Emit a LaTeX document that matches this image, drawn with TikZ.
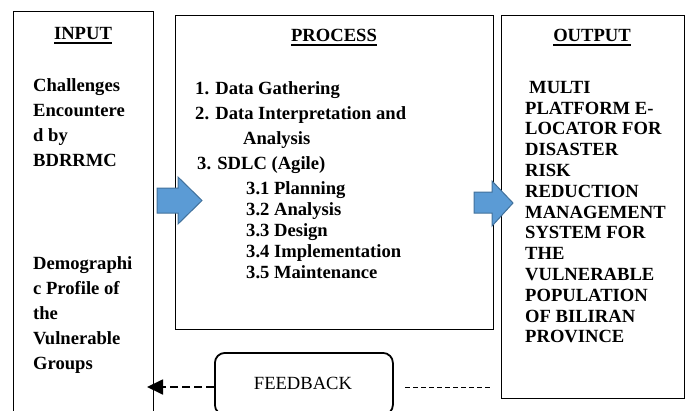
\documentclass[tikz,border=0pt]{standalone}
\usepackage{fontspec}
\setmainfont{Liberation Serif}[BoldFont={Liberation Serif Bold}]
\usetikzlibrary{arrows.meta}
\newcommand{\thickul}[1]{\setbox0=\hbox{#1}\rlap{\raisebox{-4.5pt}{\rule{\wd0}{1.6pt}}}\box0}
\begin{document}
\begin{tikzpicture}[x=1pt,y=-1pt,
  txt/.style={font=\fontsize{18.6}{25}\selectfont\bfseries, inner sep=0pt, align=left},
  subtxt/.style={font=\fontsize{18.6}{21}\selectfont\bfseries, inner sep=0pt, align=left},
  outtxt/.style={font=\fontsize{18.6}{20.8}\selectfont\bfseries, inner sep=0pt, align=left},
  head/.style={font=\fontsize{18.6}{25}\selectfont\bfseries, inner sep=0pt, anchor=base},
  frame/.style={draw, line width=1pt, inner sep=0pt},
  bluearrow/.style={fill={rgb,255:red,91;green,155;blue,213}, draw={rgb,255:red,65;green,113;blue,156}, line width=1pt, line join=miter},
]
\useasboundingbox (0,0) rectangle (688,410);
\clip (0,0) rectangle (688,410);
% boxes
\node[frame, anchor=north west, minimum width=140pt, minimum height=420pt] (inbox) at (13,11) {};
\node[frame, anchor=north west, minimum width=318pt, minimum height=314pt] (procbox) at (175,15) {};
\node[frame, anchor=north west, minimum width=183pt, minimum height=383pt] (outbox) at (501,15) {};
\node[draw, line width=1.8pt, rounded corners=10pt, anchor=north west, minimum width=178pt, minimum height=62pt,
      font=\fontsize{18.6}{25}\selectfont, inner sep=0pt] (fb) at (214,352) {};
\node[font=\fontsize{18.6}{25}\selectfont, inner sep=0pt, anchor=base] (fbtext) at (303,389.5) {FEEDBACK};
% headings
\node[head] (inhead) at (83,39) {\thickul{INPUT}};
\node[head] (prochead) at (334,41) {\thickul{PROCESS}};
\node[head] (outhead) at (592,41) {\thickul{OUTPUT}};
% input texts
\node[txt, anchor=north west] (in1) at (33,78) {Challenges\\Encountere\\d by\\BDRRMC};
\node[txt, anchor=north west] (in2) at (33,256) {Demographi\\c Profile of\\the\\Vulnerable\\Groups};
% process texts
\node[txt, anchor=north west] (p1) at (195,81) {1. Data Gathering\\2. Data Interpretation and\\\hspace*{48pt}Analysis\\\hspace*{2pt}3. SDLC (Agile)};
\node[subtxt, anchor=north west] (p2) at (246,181) {3.1 Planning\\3.2 Analysis\\3.3 Design\\3.4 Implementation\\3.5 Maintenance};
% output text
\node[outtxt, anchor=north west] (o1) at (525,81) {\hspace*{4pt}MULTI\\PLATFORM E-\\LOCATOR FOR\\DISASTER\\RISK\\REDUCTION\\MANAGEMENT\\SYSTEM FOR\\THE\\VULNERABLE\\POPULATION\\OF BILIRAN\\PROVINCE};
% blue arrows
\draw[bluearrow] (157,188) -- (178,188) -- (178,177) -- (202,200.5) -- (178,224) -- (178,213) -- (157,213) -- cycle;
\draw[bluearrow] (474,192) -- (492,192) -- (492,181) -- (513,203) -- (492,226) -- (492,213) -- (474,213) -- cycle;
% feedback connectors
\coordinate (fbin) at (fb.west |- 0,387);
\coordinate (inend) at (147,387);
\draw[line width=1.8pt, dash pattern=on 8pt off 4pt, -{Triangle[length=16pt,width=15pt]}] (fbin) -- (inend);
\coordinate (dstart) at (405,387);
\coordinate (dend) at (490,387);
\draw[line width=0.8pt, dash pattern=on 5pt off 3pt] (dstart) -- (dend);
\end{tikzpicture}
\end{document}
